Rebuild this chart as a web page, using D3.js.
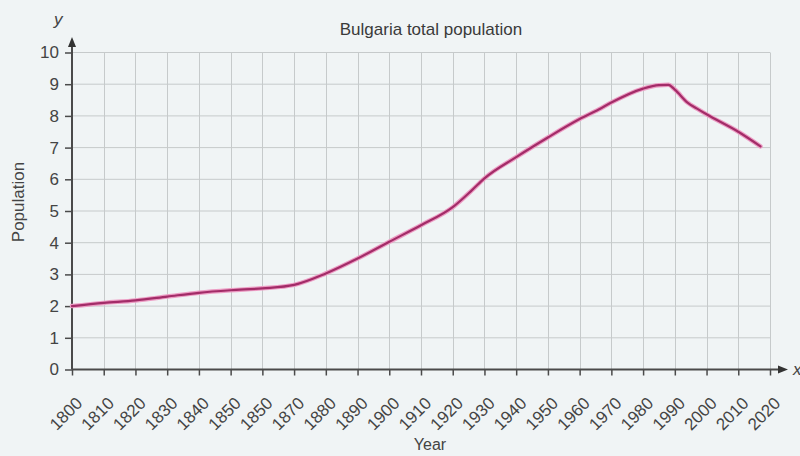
<!DOCTYPE html>
<html>
<head>
<meta charset="utf-8">
<script src="https://cdn.jsdelivr.net/npm/d3@7"></script>
<style>
  html, body { margin: 0; padding: 0; background: #f0f4f5; }
  svg { display: block; font-family: "Liberation Sans Narrow", "Liberation Sans", Arial, sans-serif; }
</style>
</head>
<body>
<svg id="chart" width="800" height="456"></svg>
<script>
// Population in millions
const years = [1800, 1810, 1820, 1830, 1840, 1850, 1860, 1870, 1880, 1890, 1900, 1910, 1920, 1926, 1930, 1940, 1950, 1960, 1966, 1970, 1980, 1985, 1988, 1990, 1994, 1997, 2000, 2010, 2017];
const population = [2.0, 2.1, 2.18, 2.3, 2.42, 2.5, 2.56, 2.67, 3.03, 3.5, 4.03, 4.55, 5.12, 5.65, 6.03, 6.7, 7.32, 7.9, 8.2, 8.42, 8.86, 8.97, 8.98, 8.83, 8.42, 8.23, 8.05, 7.5, 7.04];

// x ticks every decade, labels as printed (1860 is printed as 1850)
const xTicks = d3.range(1800, 2021, 10);
const xTickLabels = ['1800', '1810', '1820', '1830', '1840', '1850', '1850', '1870', '1880', '1890', '1900', '1910', '1920', '1930', '1940', '1950', '1960', '1970', '1980', '1990', '2000', '2010', '2020'];
const yTicks = d3.range(0, 11, 1);

let svg = d3.select('#chart');

let x = d3.scaleLinear().domain([1800, 2020]).range([72, 770]);
let y = d3.scaleLinear().domain([0, 10]).range([369.5, 52.5]);

// grid
let grid = svg.append('g').attr('stroke', '#c6cacb').attr('stroke-width', 1);
grid.selectAll('line.v')
    .data(xTicks.slice(1))
    .enter()
    .append('line')
    .attr('x1', d => Math.round(x(d)) + 0.5)
    .attr('x2', d => Math.round(x(d)) + 0.5)
    .attr('y1', y(10))
    .attr('y2', y(0));
grid.selectAll('line.h')
    .data(yTicks.slice(1))
    .enter()
    .append('line')
    .attr('x1', x(1800))
    .attr('x2', x(2020))
    .attr('y1', d => y(d))
    .attr('y2', d => y(d));

// axes
let xAxis = d3.axisBottom(x)
    .tickValues(xTicks)
    .tickSize(6)
    .tickFormat((d, i) => xTickLabels[i]);
let gx = svg.append('g')
    .attr('transform', 'translate(0,' + y(0) + ')')
    .call(xAxis);
gx.select('.domain').remove();
gx.selectAll('.tick line').attr('stroke', '#4a4a4a').attr('stroke-width', 1.5);
gx.selectAll('.tick text')
    .attr('fill', '#444')
    .attr('font-size', 17)
    .attr('text-anchor', 'end')
    .attr('dominant-baseline', 'central')
    .attr('y', 0)
    .attr('dy', null)
    .attr('transform', 'translate(7,31) rotate(-45)');

let yAxis = d3.axisLeft(y)
    .tickValues(yTicks)
    .tickSize(7)
    .tickPadding(6);
let gy = svg.append('g')
    .attr('transform', 'translate(' + x(1800) + ',0)')
    .call(yAxis);
gy.select('.domain').remove();
gy.selectAll('.tick line').attr('stroke', '#4a4a4a').attr('stroke-width', 1.5);
gy.selectAll('.tick text')
    .attr('fill', '#444')
    .attr('font-size', 17);

// axis lines with arrow heads
svg.append('line')
    .attr('x1', x(1800)).attr('x2', 780)
    .attr('y1', y(0)).attr('y2', y(0))
    .attr('stroke', '#4a4a4a').attr('stroke-width', 2);
svg.append('path')
    .attr('d', 'M778,' + (y(0) - 4) + 'L788,' + y(0) + 'L778,' + (y(0) + 4) + 'Z')
    .attr('fill', '#333');
svg.append('line')
    .attr('x1', x(1800)).attr('x2', x(1800))
    .attr('y1', y(0)).attr('y2', 46)
    .attr('stroke', '#4a4a4a').attr('stroke-width', 2);
svg.append('path')
    .attr('d', 'M' + (x(1800) - 4) + ',47L' + x(1800) + ',37L' + (x(1800) + 4) + ',47Z')
    .attr('fill', '#333');

// population line
let line = d3.line()
    .x((d, i) => x(years[i]))
    .y(d => y(d))
    .curve(d3.curveMonotoneX);
svg.append('path')
    .datum(population)
    .attr('d', line)
    .attr('fill', 'none')
    .attr('stroke', '#ec9dc4')
    .attr('stroke-width', 4.5)
    .attr('stroke-linecap', 'round');
svg.append('path')
    .datum(population)
    .attr('d', line)
    .attr('fill', 'none')
    .attr('stroke', '#a32c68')
    .attr('stroke-width', 2.2)
    .attr('stroke-linecap', 'round');

// texts
svg.append('text')
    .attr('x', 431).attr('y', 35)
    .attr('text-anchor', 'middle')
    .attr('font-size', 17)
    .attr('fill', '#3a3a3a')
    .text('Bulgaria total population');
svg.append('text')
    .attr('transform', 'translate(24,202) rotate(-90)')
    .attr('text-anchor', 'middle')
    .attr('font-size', 17)
    .attr('fill', '#444')
    .text('Population');
svg.append('text')
    .attr('x', 430).attr('y', 450)
    .attr('text-anchor', 'middle')
    .attr('font-size', 16)
    .attr('fill', '#444')
    .text('Year');
svg.append('text')
    .attr('x', 54).attr('y', 25)
    .attr('font-size', 17)
    .attr('font-style', 'italic')
    .attr('fill', '#444')
    .text('y');
svg.append('text')
    .attr('x', 793).attr('y', 375)
    .attr('font-size', 17)
    .attr('font-style', 'italic')
    .attr('fill', '#444')
    .text('x');
</script>
</body>
</html>
